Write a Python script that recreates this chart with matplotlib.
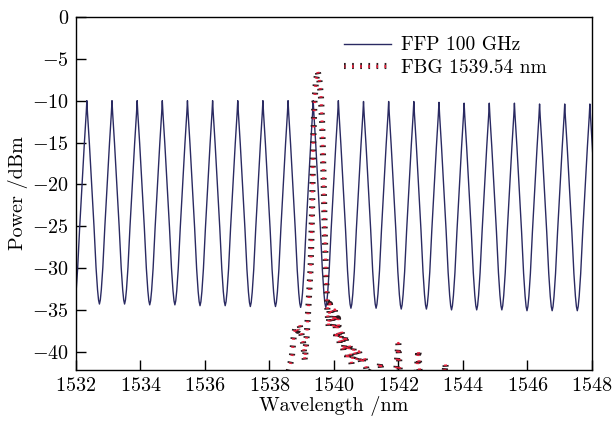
import numpy as np
import matplotlib
matplotlib.use('Agg')
import matplotlib.pyplot as plt

# FFP comb: peak centres [nm], peak levels and valley levels [dBm]
ffp_peaks = [1532.34, 1533.12, 1533.90, 1534.68, 1535.46, 1536.24, 1537.02,
             1537.80, 1538.58, 1539.36, 1540.14, 1540.92, 1541.70, 1542.48,
             1543.26, 1544.04, 1544.82, 1545.60, 1546.38, 1547.16, 1547.94]
ffp_peak_db = [-10.0, -10.0, -10.0, -10.0, -10.0, -10.0, -10.0,
               -10.0, -10.0, -10.0, -10.0, -10.1, -10.1, -10.1,
               -10.2, -10.3, -10.3, -10.3, -10.4, -10.4, -10.4]
ffp_valley_db = [-34.4, -34.3, -34.3, -34.4, -34.4, -34.5, -34.5, -34.6,
                 -34.6, -34.7, -34.7, -34.8, -34.8, -34.9, -34.9, -35.0,
                 -35.0, -35.0, -35.1, -35.1, -35.1, -35.1]
# shape of one flank: fraction of half period vs fraction of drop
flank_frac = [0.0, 0.05, 0.20, 0.38, 0.57, 0.73, 0.85, 0.93, 1.0]
flank_drop = [0.0, 0.06, 0.21, 0.41, 0.62, 0.82, 0.93, 0.98, 1.0]

# FBG reflection trace
fbg_wl = [1538.00, 1538.50, 1538.62, 1538.70, 1538.76, 1538.82, 1538.88, 1538.94,
          1539.00, 1539.05, 1539.10, 1539.16, 1539.22, 1539.28, 1539.32, 1539.36,
          1539.40, 1539.45, 1539.50, 1539.55, 1539.60, 1539.64, 1539.68, 1539.72,
          1539.76, 1539.80, 1539.84, 1539.88, 1539.93, 1539.98, 1540.03, 1540.08,
          1540.13, 1540.18, 1540.24, 1540.30, 1540.36, 1540.42, 1540.48, 1540.55,
          1540.62, 1540.70, 1540.78, 1540.86, 1540.94, 1541.05, 1541.20, 1541.35,
          1541.44, 1541.52, 1541.70, 1541.92, 1542.00, 1542.08, 1542.30, 1542.56,
          1542.62, 1542.70, 1543.00, 1543.40, 1543.46, 1543.52, 1544.0]
fbg_db = [-45.0, -44.0, -42.0, -40.5, -38.0, -37.0, -37.5, -36.8,
          -38.0, -39.0, -41.0, -38.0, -34.0, -30.0, -24.0, -15.0,
          -10.0, -7.5, -6.5, -7.5, -9.5, -13.0, -19.0, -26.0,
          -31.0, -35.0, -37.0, -34.3, -35.5, -37.0, -35.0, -38.5,
          -36.0, -39.0, -37.5, -40.0, -38.0, -41.0, -39.0, -41.5,
          -39.5, -41.0, -40.0, -41.5, -40.5, -43.0, -42.0, -44.0,
          -41.2, -44.0, -45.0, -43.0, -39.0, -45.0, -45.0, -43.0,
          -39.8, -45.0, -45.0, -44.0, -41.4, -45.0, -45.0]

plt.rcParams['font.family'] = 'cmr10'
plt.rcParams['mathtext.fontset'] = 'cm'
plt.rcParams['axes.formatter.use_mathtext'] = True
plt.rcParams['font.size'] = 14.5

# build the FFP trace from the flank table
half = [(ffp_peaks[i + 1] - ffp_peaks[i]) / 2 for i in range(len(ffp_peaks) - 1)]
half = [half[0]] + half + [half[-1]]
ffp_x, ffp_y = [], []
for i, c in enumerate(ffp_peaks):
    pk = ffp_peak_db[i]
    lv, rv = ffp_valley_db[i], ffp_valley_db[i + 1]
    for f, d in zip(flank_frac[::-1], flank_drop[::-1]):
        ffp_x.append(c - f * half[i])
        ffp_y.append(pk + d * (lv - pk))
    for f, d in zip(flank_frac[1:], flank_drop[1:]):
        ffp_x.append(c + f * half[i + 1])
        ffp_y.append(pk + d * (rv - pk))

fig = plt.figure(figsize=(6.12, 4.24), dpi=100)
ax = fig.add_axes([0.124, 0.127, 0.843, 0.833])

l1, = ax.plot(ffp_x, ffp_y, color='#2a2a62', lw=1.0)
l2, = ax.plot(fbg_wl, fbg_db, color='#2b1a1e', lw=4.4, dash_capstyle='butt',
              linestyle=(0, (0.28, 1.05)))
l3, = ax.plot(fbg_wl, fbg_db, color='#e8203c', lw=2.2, dash_capstyle='butt',
              linestyle=(0.2, (0.5, 2.16)))

ax.set_xlim(1532, 1548)
ax.set_ylim(-42.2, 0)
ax.set_xticks(np.arange(1532, 1549, 2))
ax.set_yticks(np.arange(-40, 1, 5))
ax.tick_params(direction='in', length=7, width=1, top=False, right=False, pad=5)
for s in ax.spines.values():
    s.set_linewidth(1.0)
ax.set_xlabel('Wavelength /nm', labelpad=1)
ax.set_ylabel('Power /dBm', labelpad=3)

ax.legend([l1, (l2, l3)], ['FFP 100 GHz', 'FBG 1539.54 nm'], loc='upper left',
          bbox_to_anchor=(0.52, 0.945), frameon=False, borderpad=0, fontsize=14,
          borderaxespad=0, handlelength=2.4, handletextpad=0.5, labelspacing=0.25)

fig.savefig('out.png', dpi=100)
